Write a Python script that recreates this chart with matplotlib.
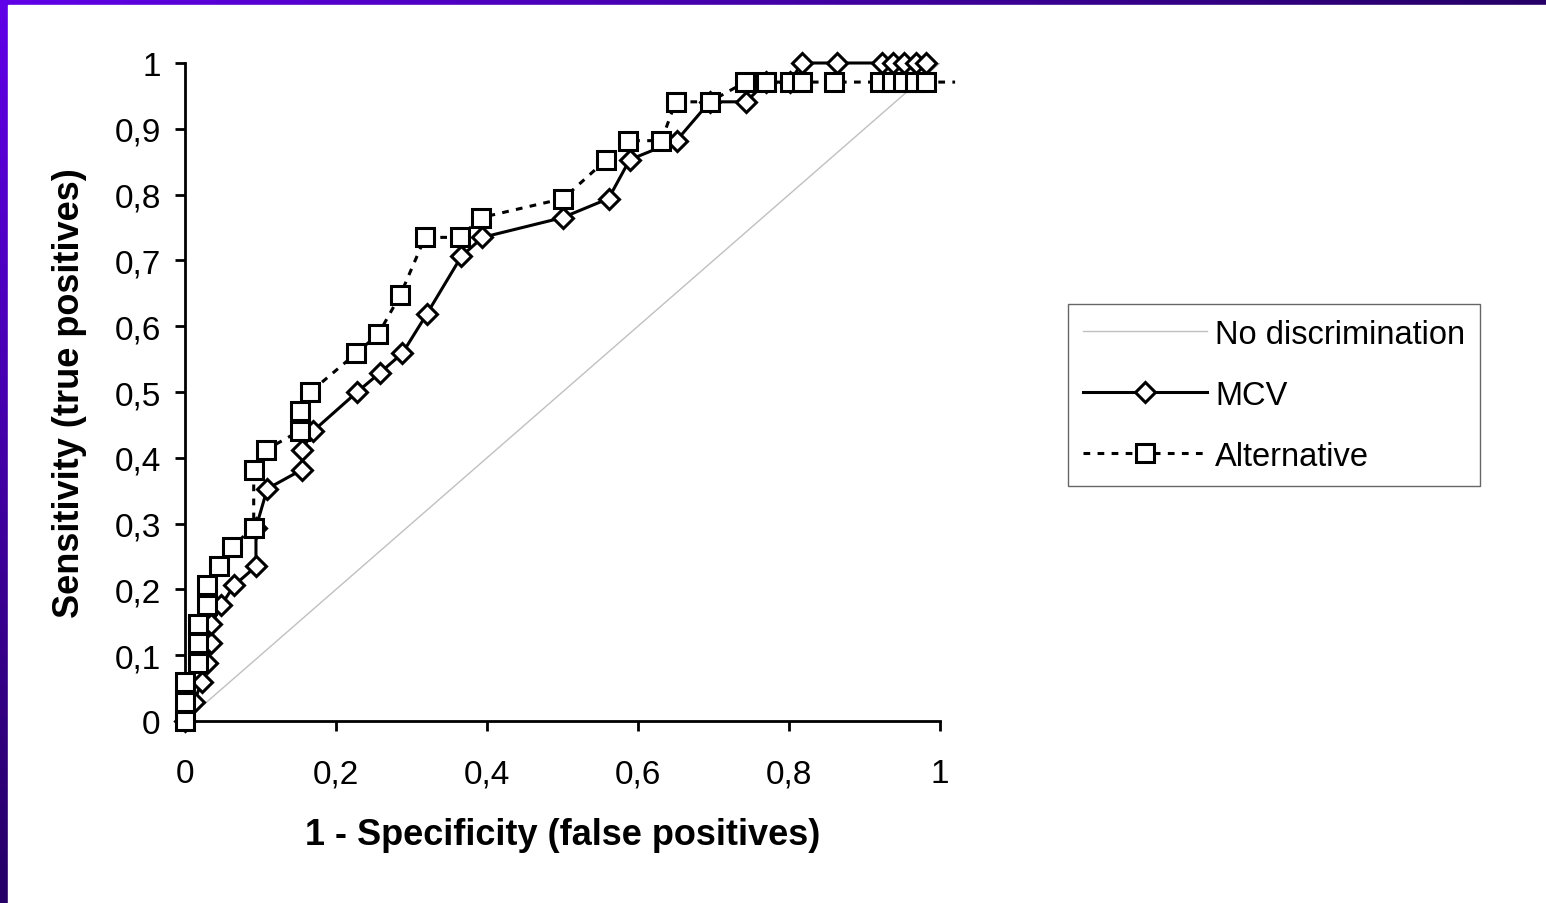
import numpy as np
import matplotlib
matplotlib.use("Agg")
import matplotlib.pyplot as plt
from matplotlib.patches import Rectangle

plt.rcParams['font.family'] = ['Liberation Sans', 'DejaVu Sans']

# ROC points
mcv_x = [0, 0.012, 0.022, 0.029, 0.035, 0.035, 0.048, 0.065, 0.094, 0.094,
         0.109, 0.155, 0.155, 0.17, 0.228, 0.258, 0.288, 0.32, 0.366, 0.394,
         0.5, 0.561, 0.589, 0.651, 0.695, 0.743, 0.77, 0.801, 0.817, 0.863,
         0.923, 0.938, 0.952, 0.968, 0.982]
mcv_y = [0, 0.029, 0.059, 0.088, 0.118, 0.147, 0.176, 0.206, 0.235, 0.294,
         0.353, 0.382, 0.412, 0.441, 0.5, 0.529, 0.559, 0.618, 0.706, 0.735,
         0.765, 0.794, 0.853, 0.882, 0.941, 0.941, 0.971, 0.971, 1, 1,
         1, 1, 1, 1, 1]

alt_x = [0, 0, 0, 0.017, 0.017, 0.017, 0.029, 0.029, 0.045, 0.062,
         0.091, 0.091, 0.107, 0.152, 0.152, 0.166, 0.227, 0.256, 0.285, 0.318,
         0.364, 0.392, 0.501, 0.558, 0.587, 0.631, 0.65, 0.695, 0.742, 0.77,
         0.801, 0.817, 0.859, 0.921, 0.936, 0.951, 0.967, 0.982, 1.02]
alt_y = [0, 0.029, 0.059, 0.088, 0.118, 0.147, 0.176, 0.206, 0.235, 0.265,
         0.294, 0.382, 0.412, 0.441, 0.471, 0.5, 0.559, 0.588, 0.647, 0.735,
         0.735, 0.765, 0.794, 0.853, 0.882, 0.882, 0.941, 0.941, 0.971, 0.971,
         0.971, 0.971, 0.971, 0.971, 0.971, 0.971, 0.971, 0.971, 0.971]

diag = [0, 1]

xticks = [0, 0.2, 0.4, 0.6, 0.8, 1]
xtick_labels = ["0", "0,2", "0,4", "0,6", "0,8", "1"]
yticks = [0, 0.1, 0.2, 0.3, 0.4, 0.5, 0.6, 0.7, 0.8, 0.9, 1]
ytick_labels = ["0", "0,1", "0,2", "0,3", "0,4", "0,5", "0,6", "0,7", "0,8", "0,9", "1"]

W, H = 1546, 904
fig = plt.figure(figsize=(W / 100, H / 100), dpi=100)

# purple slide frame (gradient from top-left)
bg = fig.add_axes([0, 0, 1, 1], zorder=-10)
gx, gy = np.meshgrid(np.linspace(0, 1, 200), np.linspace(0, 1, 120))
t = np.clip(gx + gy, 0, 1)
c0 = np.array([0x60, 0x00, 0xE8]) / 255
c1 = np.array([0x26, 0x00, 0x66]) / 255
img = c0[None, None, :] * (1 - t[..., None]) + c1[None, None, :] * t[..., None]
bg.imshow(img, extent=[0, 1, 0, 1], aspect='auto', origin='upper')
bg.add_patch(Rectangle((8 / W, 0), 1, 1 - 6 / H, color='white'))
bg.set_xlim(0, 1)
bg.set_ylim(0, 1)
bg.axis('off')

ax = fig.add_axes([185 / W, 182 / H, 755 / W, 658 / H])
ax.patch.set_alpha(0)

ax.plot(diag, diag, color='#c0c0c0', lw=1, label='No discrimination', zorder=1)
ax.plot(mcv_x, mcv_y, color='black', lw=2.2, marker='D', ms=10.5,
        mfc='white', mec='black', mew=2.2, label='MCV', clip_on=False, zorder=3)
ax.plot(alt_x, alt_y, color='black', lw=2.2, ls=(0, (2.2, 2.4)), marker='s', ms=13,
        mfc='white', mec='black', mew=2.2, markevery=list(range(len(alt_x) - 1)),
        label='Alternative', clip_on=False, zorder=4)

ax.set_xlim(0, 1)
ax.set_ylim(0, 1)
ax.spines['top'].set_visible(False)
ax.spines['right'].set_visible(False)
ax.spines['left'].set_linewidth(2)
ax.spines['bottom'].set_linewidth(2)
ax.set_xticks(xticks)
ax.set_xticklabels(xtick_labels)
ax.set_yticks(yticks)
ax.set_yticklabels(ytick_labels)
ax.tick_params(direction='out', length=7, width=2, labelsize=24)
ax.tick_params(axis='x', pad=20)
ax.tick_params(axis='y', pad=10.5)

ax.set_xlabel("1 - Specificity (false positives)", fontsize=26, fontweight='bold', labelpad=20)
ax.set_ylabel("Sensitivity (true positives)", fontsize=26, fontweight='bold', labelpad=20)

leg = ax.legend(loc='upper left', bbox_to_anchor=(1068 / W, 1 - 305 / H),
                bbox_transform=fig.transFigure, borderaxespad=0, fontsize=23.5,
                frameon=True, fancybox=False, edgecolor='#404040', handlelength=3.8,
                handletextpad=0.25, labelspacing=0.92, numpoints=1, borderpad=0.45)
leg.get_frame().set_linewidth(1)

fig.savefig("out.png", dpi=100)
